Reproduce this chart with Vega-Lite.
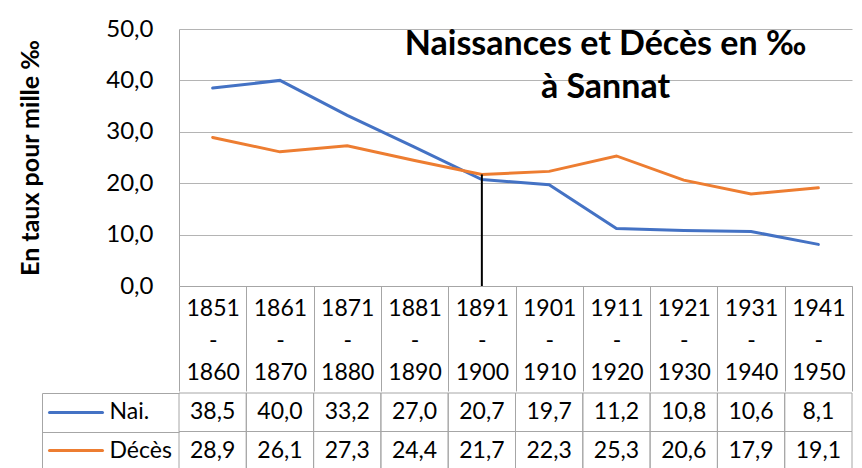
{
  "$schema": "https://vega.github.io/schema/vega-lite/v6.json",
  "background": "white",
  "padding": {"left": 18, "top": 17, "right": 0, "bottom": 0},
  "spacing": 0,
  "config": {
    "locale": {"number": {"decimal": ",", "thousands": "\u00a0", "grouping": [3], "currency": ["", "\u00a0€"]}},
    "view": {"stroke": null},
    "font": "Lato",
    "axis": {"labelFont": "Lato", "labelFontSize": 23, "labelColor": "#000000", "titleFont": "Lato", "titleColor": "#000000"}
  },
  "datasets": {
    "taux": [
      {"periode": "1851-1860", "serie": "Nai.", "valeur": 38.5},
      {"periode": "1861-1870", "serie": "Nai.", "valeur": 40.0},
      {"periode": "1871-1880", "serie": "Nai.", "valeur": 33.2},
      {"periode": "1881-1890", "serie": "Nai.", "valeur": 27.0},
      {"periode": "1891-1900", "serie": "Nai.", "valeur": 20.7},
      {"periode": "1901-1910", "serie": "Nai.", "valeur": 19.7},
      {"periode": "1911-1920", "serie": "Nai.", "valeur": 11.2},
      {"periode": "1921-1930", "serie": "Nai.", "valeur": 10.8},
      {"periode": "1931-1940", "serie": "Nai.", "valeur": 10.6},
      {"periode": "1941-1950", "serie": "Nai.", "valeur": 8.1},
      {"periode": "1851-1860", "serie": "Décès", "valeur": 28.9},
      {"periode": "1861-1870", "serie": "Décès", "valeur": 26.1},
      {"periode": "1871-1880", "serie": "Décès", "valeur": 27.3},
      {"periode": "1881-1890", "serie": "Décès", "valeur": 24.4},
      {"periode": "1891-1900", "serie": "Décès", "valeur": 21.7},
      {"periode": "1901-1910", "serie": "Décès", "valeur": 22.3},
      {"periode": "1911-1920", "serie": "Décès", "valeur": 25.3},
      {"periode": "1921-1930", "serie": "Décès", "valeur": 20.6},
      {"periode": "1931-1940", "serie": "Décès", "valeur": 17.9},
      {"periode": "1941-1950", "serie": "Décès", "valeur": 19.1}
    ]
  },
  "vconcat": [
    {
      "width": 673,
      "height": 257,
      "data": {"name": "taux"},
      "title": {
        "text": ["Naissances et Décès en ‰", "à Sannat"],
        "font": "Lato",
        "fontSize": 34,
        "fontWeight": "bold",
        "color": "#000000",
        "anchor": "middle",
        "frame": "group",
        "dx": 90,
        "baseline": "top",
        "offset": -88,
        "lineHeight": 43
      },
      "layer": [
        {
          "mark": {"type": "line", "strokeWidth": 3, "strokeCap": "round"},
          "encoding": {
            "x": {
              "field": "periode",
              "type": "nominal",
              "scale": {"type": "band", "domain": ["1851-1860", "1861-1870", "1871-1880", "1881-1890", "1891-1900", "1901-1910", "1911-1920", "1921-1930", "1931-1940", "1941-1950"], "paddingInner": 0, "paddingOuter": 0},
              "axis": {
                "title": null,
                "grid": false,
                "domain": true,
                "domainColor": "#a6a6a6",
                "ticks": true,
                "tickBand": "extent",
                "tickSize": 105,
                "tickColor": "#a6a6a6",
                "labelAngle": 0,
                "labelAlign": "center",
                "labelFlush": false,
                "labelOverlap": false,
                "labelBaseline": "top",
                "labelLineHeight": 32,
                "labelPadding": -94,
                "labelExpr": "length(datum.label) > 4 ? [slice(datum.label, 0, 4), '-', slice(datum.label, 5)] : ''"
              }
            },
            "y": {
              "field": "valeur",
              "type": "quantitative",
              "scale": {"domain": [0, 50], "nice": false},
              "axis": {
                "values": [0, 10, 20, 30, 40, 50],
                "format": ".1f",
                "grid": true,
                "gridColor": "#b4b4b4",
                "domain": true,
                "domainColor": "#a6a6a6",
                "ticks": false,
                "labelPadding": 26,
                "labelFontSize": 24,
                "title": "En taux pour mille ‰",
                "titleFontSize": 25,
                "titleFontWeight": "bold",
                "titlePadding": 62
              }
            },
            "color": {
              "field": "serie",
              "type": "nominal",
              "scale": {"domain": ["Nai.", "Décès"], "range": ["#4472C4", "#ED7D31"]},
              "legend": null
            }
          }
        },
        {
          "transform": [{"filter": "datum.serie === 'Décès' && datum.periode === '1891-1900'"}],
          "mark": {"type": "rule", "color": "#000000", "strokeWidth": 2},
          "encoding": {
            "x": {"field": "periode", "type": "nominal"},
            "y": {"field": "valeur", "type": "quantitative"},
            "y2": {"datum": 0}
          }
        }
      ]
    },
    {
      "width": 673,
      "height": 77,
      "data": {"name": "taux"},
      "encoding": {
        "x": {
          "field": "periode",
          "type": "nominal",
          "scale": {"type": "band", "domain": ["1851-1860", "1861-1870", "1871-1880", "1881-1890", "1891-1900", "1901-1910", "1911-1920", "1921-1930", "1931-1940", "1941-1950"], "paddingInner": 0, "paddingOuter": 0},
          "axis": null
        }
      },
      "layer": [
        {
          "mark": {"type": "rect", "filled": false, "stroke": "#a6a6a6", "strokeWidth": 1},
          "encoding": {
            "y": {
              "field": "serie",
              "type": "nominal",
              "scale": {"type": "band", "domain": ["Nai.", "Décès"], "paddingInner": 0, "paddingOuter": 0},
              "axis": {
                "orient": "left",
                "offset": 77,
                "title": null,
                "domain": false,
                "grid": false,
                "ticks": true,
                "tickSize": 53,
                "tickWidth": 3,
                "tickCap": "round",
                "tickColor": {"condition": {"test": "datum.value === 'Nai.'", "value": "#4472C4"}, "value": "#ED7D31"},
                "labelAlign": "left",
                "labelPadding": -60
              }
            }
          }
        },
        {
          "mark": {"type": "text", "font": "Lato", "fontSize": 23, "color": "#000000", "align": "center", "baseline": "middle"},
          "encoding": {
            "y": {
              "field": "serie",
              "type": "nominal",
              "scale": {"type": "band", "domain": ["Nai.", "Décès"], "paddingInner": 0, "paddingOuter": 0},
              "axis": {
                "orient": "left",
                "offset": 137,
                "title": null,
                "domain": true,
                "domainColor": "#a6a6a6",
                "grid": false,
                "ticks": true,
                "tickBand": "extent",
                "tickSize": -137,
                "tickColor": "#a6a6a6",
                "labels": false
              }
            },
            "text": {"field": "valeur", "type": "quantitative", "format": ".1f"}
          }
        }
      ],
      "resolve": {"scale": {"y": "independent"}, "axis": {"y": "independent"}}
    }
  ]
}
